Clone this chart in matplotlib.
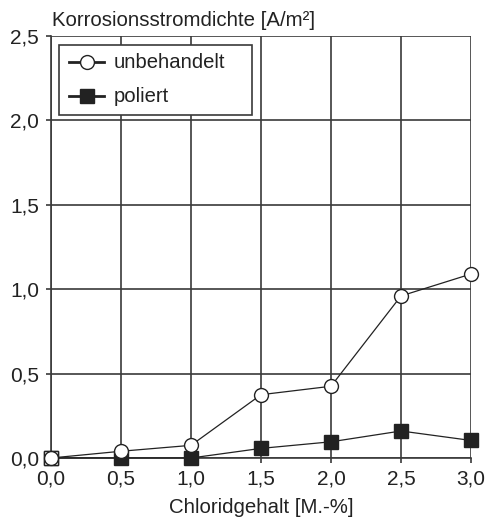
import matplotlib
matplotlib.use("Agg")
import matplotlib.pyplot as plt
from matplotlib.patches import Rectangle

chlorid = [0.0, 0.5, 1.0, 1.5, 2.0, 2.5, 3.0]
unbehandelt = [0.0, 0.04, 0.075, 0.375, 0.425, 0.96, 1.09]
poliert = [0.0, 0.0, 0.0, 0.057, 0.096, 0.16, 0.104]
xticks = [0.0, 0.5, 1.0, 1.5, 2.0, 2.5, 3.0]
yticks = [0.0, 0.5, 1.0, 1.5, 2.0, 2.5]
labels = ['unbehandelt', 'poliert']

plt.rcParams['font.family'] = ['Liberation Sans', 'DejaVu Sans']
W, H = 486, 519
fig = plt.figure(figsize=(W/100, H/100), dpi=100)
ax = fig.add_axes([51/W, 1-458/H, 420/W, 422/H])

gc = '#3a3a3a'
tc = '#222222'
ax.set_xlim(0, 3.0)
ax.set_ylim(0, 2.5)
ax.set_xticks(xticks)
ax.set_yticks(yticks)
ax.set_xticklabels([f"{v:.1f}".replace('.', ',') for v in xticks])
ax.set_yticklabels([f"{v:.1f}".replace('.', ',') for v in yticks])
ax.grid(True, color=gc, linewidth=1.2)
for s in ['top', 'right']:
    ax.spines[s].set_visible(False)
for s in ['left', 'bottom']:
    ax.spines[s].set_color(gc)
    ax.spines[s].set_linewidth(1.2)
ax.tick_params(direction='out', length=3.5, width=1.2, color=gc, labelsize=15, labelcolor=tc)
ax.tick_params(axis='y', pad=5)
ax.tick_params(axis='x', pad=4.5)

ax.plot(chlorid, poliert, color=tc, linewidth=0.9, marker='s', markersize=9.5,
        markerfacecolor=tc, markeredgecolor=tc, clip_on=False, zorder=3)
ax.plot(chlorid, unbehandelt, color=tc, linewidth=0.9, marker='o', markersize=10,
        markerfacecolor='white', markeredgecolor=tc, markeredgewidth=1.0, clip_on=False, zorder=4)
# open square at origin behind circle
ax.plot([chlorid[0]], [poliert[0]], marker='s', markersize=10, markerfacecolor='white',
        markeredgecolor=tc, clip_on=False, zorder=3.5, linestyle='none')

# manual legend (figure pixel coordinates converted to fractions)
def fx(px):
    return px / W
def fy(py):
    return 1 - py / H

fig.patches.append(Rectangle((fx(59), fy(115)), fx(252) - fx(59), fy(45) - fy(115),
                             transform=fig.transFigure, facecolor='white',
                             edgecolor=gc, linewidth=1.2, zorder=10))
rows = [62, 96]
mk = [dict(marker='o', markerfacecolor='white'), dict(marker='s', markerfacecolor=tc)]
for r, lab, m in zip(rows, labels, mk):
    fig.add_artist(plt.Line2D([fx(69), fx(104)], [fy(r), fy(r)], color=tc, linewidth=2,
                              transform=fig.transFigure, zorder=11))
    fig.add_artist(plt.Line2D([fx(87)], [fy(r)], color=tc, markersize=10,
                              markeredgecolor=tc, markeredgewidth=1.0,
                              transform=fig.transFigure, zorder=12, **m))
    fig.text(fx(114), fy(r), lab, fontsize=14.6, va='center', ha='left', color=tc, zorder=12)

fig.text(fx(52), fy(20), 'Korrosionsstromdichte [A/m²]', fontsize=14.7, va='center', ha='left', color=tc)
fig.text(fx(261), fy(513), 'Chloridgehalt [M.-%]', fontsize=14.7, va='baseline', ha='center', color=tc)

fig.savefig('out.png', dpi=100)
